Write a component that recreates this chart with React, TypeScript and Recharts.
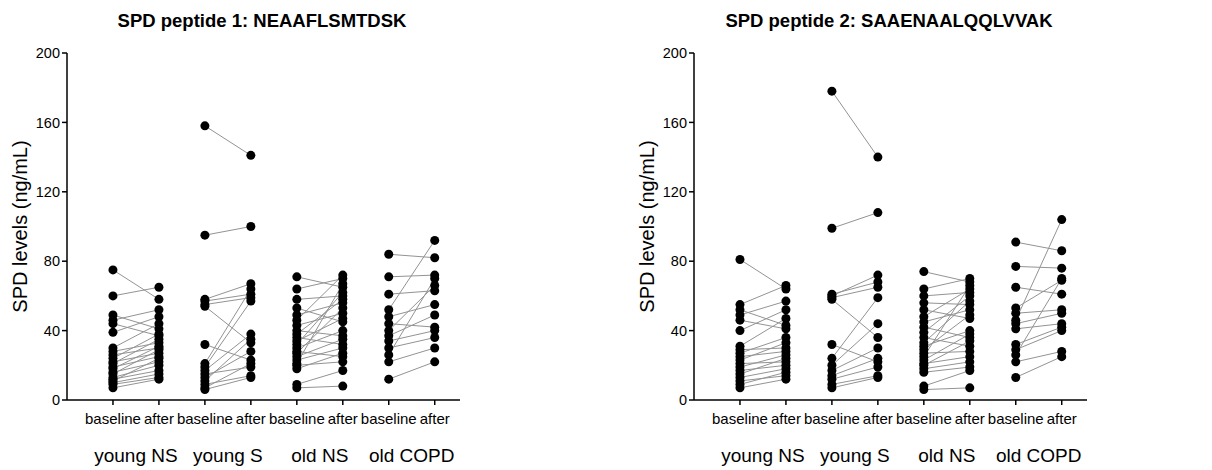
import React from 'react';
import { ComposedChart, Scatter, XAxis, YAxis } from 'recharts';

const FONT = "Arial, 'Liberation Sans', Helvetica, sans-serif";

const GROUPS = ['young NS', 'young S', 'old NS', 'old COPD'];
const X_LABELS = ['baseline', 'after'];
const Y_TICKS = [0, 40, 80, 120, 160, 200];

// Panel 1: NEAAFLSMTDSK
const p1YoungNSBase = [75, 60, 49, 46, 44, 39, 30, 28, 26, 24, 22, 21, 19, 18, 16, 15, 13, 12, 11, 10, 9, 7];
const p1YoungNSAfter = [58, 65, 41, 52, 37, 48, 44, 33, 30, 38, 27, 35, 25, 31, 22, 29, 20, 17, 24, 15, 13, 12];
const p1YoungSBase = [158, 95, 58, 57, 55, 54, 32, 21, 19, 17, 15, 13, 11, 9, 7, 6];
const p1YoungSAfter = [141, 100, 67, 61, 59, 33, 23, 64, 57, 38, 19, 28, 35, 14, 21, 13];
const p1OldNSBase = [71, 64, 58, 53, 49, 46, 43, 40, 38, 36, 34, 32, 30, 28, 27, 25, 23, 21, 20, 18, 9, 7];
const p1OldNSAfter = [65, 70, 60, 45, 56, 72, 50, 37, 58, 32, 47, 62, 40, 25, 53, 35, 30, 67, 22, 27, 17, 8];
const p1OldCOPDBase = [84, 71, 61, 52, 48, 44, 40, 37, 34, 30, 26, 22, 12];
const p1OldCOPDAfter = [82, 72, 63, 92, 55, 42, 66, 49, 40, 36, 70, 30, 22];

// Panel 2: SAAENAALQQLVVAK
const p2YoungNSBase = [81, 55, 52, 49, 46, 40, 31, 29, 27, 25, 23, 21, 19, 17, 15, 13, 11, 9, 7];
const p2YoungNSAfter = [64, 66, 43, 57, 41, 52, 47, 30, 36, 28, 33, 22, 26, 20, 24, 18, 14, 16, 12];
const p2YoungSBase = [178, 99, 61, 60, 59, 58, 32, 24, 20, 17, 14, 12, 9, 7];
const p2YoungSAfter = [140, 108, 68, 72, 65, 36, 22, 59, 44, 30, 24, 19, 14, 13];
const p2OldNSBase = [74, 64, 60, 56, 52, 48, 45, 42, 39, 36, 33, 31, 29, 27, 25, 23, 21, 20, 18, 16, 8, 6];
const p2OldNSAfter = [68, 70, 62, 55, 47, 64, 52, 36, 60, 31, 57, 40, 49, 28, 66, 38, 25, 34, 22, 19, 17, 7];
const p2OldCOPDBase = [91, 77, 65, 53, 50, 46, 44, 41, 32, 29, 26, 22, 13];
const p2OldCOPDAfter = [86, 76, 61, 69, 52, 104, 50, 44, 42, 40, 70, 28, 25];

type Pt = { x: number; y: number };

function buildSegments(pairs: [number[], number[]][]): Pt[][] {
  const segs: Pt[][] = [];
  pairs.forEach(([b, a], gi) => {
    const xb = gi * 2 + 1;
    b.forEach((v, i) => {
      segs.push([
        { x: xb, y: v },
        { x: xb + 1, y: a[i] },
      ]);
    });
  });
  return segs;
}

const Empty = () => <g />;
const Dot = (p: any) => <circle cx={p.cx} cy={p.cy} r={4.5} fill="#000" />;

function Panel({ left, title, pairs }: { left: number; title: string; pairs: [number[], number[]][] }) {
  const segs = buildSegments(pairs);
  const dots = segs.flat();
  const domain: [number, number] = [0, 8.55];
  return (
    <div style={{ position: 'absolute', left, top: 0, width: 480, height: 470 }}>
      <div
        style={{
          position: 'absolute',
          left: 62,
          width: 400,
          top: 10,
          textAlign: 'center',
          fontFamily: FONT,
          fontWeight: 'bold',
          fontSize: 18.5,
          color: '#000',
        }}
      >
        {title}
      </div>
      <ComposedChart width={480} height={470} margin={{ top: 53, right: 20, bottom: 0, left: 5 }}>
        <XAxis
          xAxisId="a"
          type="number"
          dataKey="x"
          domain={domain}
          ticks={[1, 2, 3, 4, 5, 6, 7, 8]}
          tickFormatter={(v: number) => X_LABELS[(v - 1) % 2]}
          allowDataOverflow
          interval={0}
          height={34}
          tickSize={5}
          tickMargin={8}
          axisLine={{ stroke: '#000', strokeWidth: 1.5 }}
          tickLine={{ stroke: '#000', strokeWidth: 1.5 }}
          tick={{ fill: '#000', fontSize: 15, fontFamily: FONT }}
        />
        <XAxis
          xAxisId="b"
          type="number"
          dataKey="x"
          domain={domain}
          ticks={[1.5, 3.5, 5.5, 7.5]}
          tickFormatter={(v: number) => GROUPS[Math.round((v - 1.5) / 2)]}
          allowDataOverflow
          interval={0}
          height={36}
          axisLine={false}
          tickLine={false}
          tickSize={0}
          tickMargin={15}
          tick={{ fill: '#000', fontSize: 19, fontFamily: FONT }}
        />
        <YAxis
          yAxisId="y"
          type="number"
          domain={[0, 200]}
          ticks={Y_TICKS}
          interval={0}
          width={62}
          tickSize={5}
          tickMargin={2}
          axisLine={{ stroke: '#000', strokeWidth: 1.5 }}
          tickLine={{ stroke: '#000', strokeWidth: 1.5 }}
          tick={{ fill: '#000', fontSize: 14.5, fontFamily: FONT }}
          label={{
            value: 'SPD levels (ng/mL)',
            angle: -90,
            position: 'insideLeft',
            offset: 15,
            style: { textAnchor: 'middle', fill: '#000', fontSize: 20, fontFamily: FONT },
          }}
        />
        <Scatter
          xAxisId="b"
          yAxisId="y"
          data={[{ x: 1.5, y: 0 }]}
          shape={Empty}
          isAnimationActive={false}
        />
        {segs.map((s, i) => (
          <Scatter
            key={'s' + i}
            xAxisId="a"
            yAxisId="y"
            data={s}
            dataKey="y"
            line={{ stroke: '#939393', strokeWidth: 1 }}
            shape={Empty}
            isAnimationActive={false}
          />
        ))}
        <Scatter xAxisId="a" yAxisId="y" data={dots} dataKey="y" shape={Dot} isAnimationActive={false} />
      </ComposedChart>
    </div>
  );
}

export default function App() {
  return (
    <div style={{ position: 'absolute', left: 0, top: 0, width: 1212, height: 470, background: '#fff', fontFamily: FONT }}>
      <Panel
        left={0}
        title="SPD peptide 1: NEAAFLSMTDSK"
        pairs={[
          [p1YoungNSBase, p1YoungNSAfter],
          [p1YoungSBase, p1YoungSAfter],
          [p1OldNSBase, p1OldNSAfter],
          [p1OldCOPDBase, p1OldCOPDAfter],
        ]}
      />
      <Panel
        left={627}
        title="SPD peptide 2: SAAENAALQQLVVAK"
        pairs={[
          [p2YoungNSBase, p2YoungNSAfter],
          [p2YoungSBase, p2YoungSAfter],
          [p2OldNSBase, p2OldNSAfter],
          [p2OldCOPDBase, p2OldCOPDAfter],
        ]}
      />
    </div>
  );
}
